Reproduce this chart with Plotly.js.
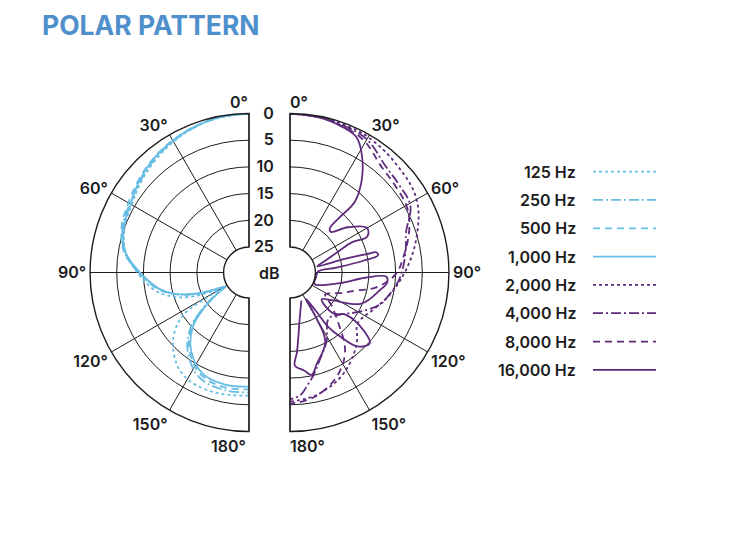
<!DOCTYPE html>
<html>
<head>
<meta charset="utf-8">
<script src="https://cdn.plot.ly/plotly-3.0.1.min.js"></script>
<style>
  html, body { margin: 0; padding: 0; background: #fff; }
  #chart { width: 736px; height: 536px; }
</style>
</head>
<body>
<div id="chart"></div>
<script>
// polar pattern, attenuation in dB relative to 0 deg (0 = outer ring)

const freqLabels = ["125 Hz", "250 Hz", "500 Hz", "1,000 Hz", "2,000 Hz", "4,000 Hz", "8,000 Hz", "16,000 Hz"];

// low bands, left half
const theta125 = [0, 10, 20, 30, 40, 50, 60, 70, 80, 86, 92, 100, 106, 112, 117, 119.5, 121, 122.5, 128, 137, 148, 163, 180];
const db125 = [0, 0.2, 0.7, 1.5, 2.4, 3.4, 4.4, 5.0, 6.2, 7.7, 9.4, 11.6, 14.0, 17.5, 22.0, 23.8, 19.6, 15.6, 12.2, 9.1, 6.9, 6.4, 6.7];

const thetaLow = [0, 10, 20, 30, 40, 50, 60, 70, 80, 86, 92, 100, 106, 112, 118, 121, 124, 128, 134, 143, 155, 168, 180];
const db250 = [0, 0.2, 0.7, 1.4, 2.2, 3.2, 4.0, 4.6, 6.0, 7.8, 9.8, 12.5, 15.3, 19.2, 23.5, 24.5, 22.0, 18.6, 14.4, 10.8, 8.0, 7.3, 7.3];
const db500 = [0, 0.2, 0.6, 1.2, 1.9, 2.8, 3.7, 4.4, 5.9, 7.7, 9.8, 12.3, 15.1, 19.0, 23.4, 24.5, 22.2, 19.0, 14.8, 11.3, 8.6, 7.8, 7.9];
const db1000 = [0, 0.2, 0.6, 1.3, 2.0, 3.0, 4.2, 4.8, 6.2, 8.0, 10.0, 12.6, 15.3, 19.3, 23.6, 24.6, 22.5, 19.4, 15.2, 11.7, 9.0, 8.3, 8.4];

// high bands, right half
const theta2k = [0, 10, 20, 30, 45, 60, 75, 90, 104, 114, 127, 135, 141, 153, 165, 172, 180];
const db2k = [0, 0.1, 0.3, 0.5, 1.4, 2.4, 5.3, 8.3, 10.9, 12.7, 13.9, 12.0, 10.6, 8.2, 6.6, 6.0, 5.6];

const theta4k = [0, 10, 20, 30, 42, 52, 61, 71, 80, 93, 103, 110, 120, 130, 140, 152, 162, 167, 171, 175, 180];
const db4k = [0, 0.2, 0.5, 1.0, 3.0, 3.6, 4.0, 6.8, 7.8, 9.2, 10.8, 12.0, 15.0, 17.5, 18.5, 15.2, 12.2, 10.1, 8.5, 6.8, 6.0];

const theta8k = [0, 10, 20, 29, 41, 50, 61, 70, 82, 91, 100, 105, 112, 117.5, 122, 128, 136, 145, 155, 165, 172, 180];
const db8k = [0, 0.2, 0.7, 1.4, 3.6, 4.2, 4.7, 6.0, 8.3, 10.0, 13.5, 16.8, 19.5, 21.3, 22.0, 20.0, 16.8, 11.8, 8.6, 6.6, 5.7, 5.2];

const theta16k = [0, 10, 17, 26, 32, 38, 42.5, 42, 42, 45, 52, 60, 65, 64, 66, 72, 77, 76, 76.5, 77, 79, 81, 84, 88,
  100, 115, 102, 94, 92.5, 96, 101, 113.6, 123.6, 130, 133.5, 127, 128.4, 131.6, 137.5, 142.5, 144.9, 146, 149,
  150, 153, 164, 168, 172, 177, 175, 168, 158];
const db16k = [0, 0.2, 0.6, 1.5, 4.3, 8.0, 11.8, 15.9, 18.6, 19.0, 16.0, 13.1, 13.8, 17.0, 19.5, 23.0, 24.5, 19.0, 15.0, 13.1, 13.0, 16.0, 21.0, 24.5,
  24.8, 24.7, 20.2, 15.7, 11.7, 11.5, 12.6, 15.2, 20.4, 22.0, 18.7, 16.6, 12.0, 9.8, 11.0, 15.0, 17.4, 21.0, 24.0,
  19.9, 15.2, 11.8, 10.2, 11.3, 12.3, 14.8, 21.0, 24.1];

const angleTicks = [0, 30, 60, 90, 120, 150, 180];
const angleText = ["", "30°", "60°", "90°", "120°", "150°", ""];
const dbTicks = [0, 5, 10, 15, 20, 25];

const BLUE = "#67bde4";
const PURPLE = "#5e2b7d";
const INK = "#1c1c1c";
const FONT = "Inter, 'Noto Sans', sans-serif";
const LABEL_FONT = { family: FONT, size: 16, color: INK, weight: 600 };

const dashes = ["3px,3px", "10px,3px,2px,3px", "7px,5px", "solid"];

const series = [
  { theta: theta125, r: db125, color: BLUE, dash: dashes[0], subplot: "polar" },
  { theta: thetaLow, r: db250, color: BLUE, dash: dashes[1], subplot: "polar" },
  { theta: thetaLow, r: db500, color: BLUE, dash: dashes[2], subplot: "polar" },
  { theta: thetaLow, r: db1000, color: BLUE, dash: dashes[3], subplot: "polar" },
  { theta: theta2k, r: db2k, color: PURPLE, dash: dashes[0], subplot: "polar2" },
  { theta: theta4k, r: db4k, color: PURPLE, dash: dashes[1], subplot: "polar2" },
  { theta: theta8k, r: db8k, color: PURPLE, dash: dashes[2], subplot: "polar2" },
  { theta: theta16k, r: db16k, color: PURPLE, dash: dashes[3], subplot: "polar2" },
];

const traces = series.map((s, i) => ({
  type: "scatterpolar",
  mode: "lines",
  subplot: s.subplot,
  theta: s.theta,
  r: s.r,
  name: freqLabels[i],
  line: { color: s.color, dash: s.dash, width: 1.8, shape: "spline", smoothing: 1.1 },
  hoverinfo: "skip",
}));

// legend samples drawn on a small cartesian panel
series.forEach((s, i) => {
  traces.push({
    type: "scatter",
    mode: "lines",
    x: [0, 1],
    y: [i, i],
    xaxis: "x",
    yaxis: "y",
    line: { color: s.color, dash: s.dash, width: 1.8 },
    hoverinfo: "skip",
  });
});

const px = (v) => v / 736;
const py = (v) => 1 - v / 536;

function angular(direction) {
  return {
    rotation: 90,
    direction: direction,
    tickvals: angleTicks,
    ticktext: angleText,
    ticks: "",
    showline: true,
    linecolor: INK,
    linewidth: 1.4,
    gridcolor: INK,
    gridwidth: 1,
    tickfont: LABEL_FONT,
  };
}

function radial(showLabels) {
  return {
    range: [25, 0],
    tickvals: dbTicks,
    showticklabels: showLabels,
    // invisible ticks push the labels into the gap between the halves
    ticks: "outside",
    ticklen: 10,
    tickcolor: "rgba(0,0,0,0)",
    showline: false,
    angle: 90,
    side: "counterclockwise",
    tickangle: 90,
    gridcolor: INK,
    gridwidth: 1,
    tickfont: LABEL_FONT,
  };
}

const domainY = [py(431.5), py(113.5)];

const annotations = [
  { text: "dB", x: px(269.5), y: py(273), xanchor: "center", yanchor: "middle" },
  { text: "0°", x: px(250), y: py(102), xanchor: "right", yanchor: "middle" },
  { text: "0°", x: px(288), y: py(102), xanchor: "left", yanchor: "middle" },
  { text: "180°", x: px(248), y: py(446), xanchor: "right", yanchor: "middle" },
  { text: "180°", x: px(288), y: py(446), xanchor: "left", yanchor: "middle" },
].map((a) => ({
  ...a,
  xref: "paper",
  yref: "paper",
  showarrow: false,
  font: LABEL_FONT,
}));

freqLabels.forEach((label, i) => {
  annotations.push({
    text: label,
    x: 0,
    y: i,
    xref: "x",
    yref: "y",
    xanchor: "right",
    yanchor: "middle",
    xshift: -15,
    showarrow: false,
    font: LABEL_FONT,
  });
});

const layout = {
  width: 736,
  height: 536,
  margin: { t: 0, b: 0, l: 0, r: 0 },
  paper_bgcolor: "#fff",
  showlegend: false,
  title: {
    text: "POLAR PATTERN",
    x: px(42),
    xanchor: "left",
    y: py(26),
    yanchor: "middle",
    font: { family: FONT, size: 26.5, weight: 700, color: "#4f8fcc" },
  },
  polar: {
    domain: { x: [px(90), px(249)], y: domainY },
    sector: [90, 270],
    hole: 0.16,
    bgcolor: "#fff",
    angularaxis: angular("counterclockwise"),
    radialaxis: radial(false),
  },
  polar2: {
    domain: { x: [px(290), px(449)], y: domainY },
    sector: [-90, 90],
    hole: 0.16,
    bgcolor: "#fff",
    angularaxis: angular("clockwise"),
    radialaxis: radial(true),
  },
  xaxis: {
    domain: [px(593), px(656)],
    range: [0, 1],
    visible: false,
    fixedrange: true,
  },
  yaxis: {
    domain: [py(384), py(157.5)],
    range: [7.5, -0.5],
    visible: false,
    fixedrange: true,
  },
  annotations: annotations,
};

Plotly.newPlot("chart", traces, layout, { displayModeBar: false, staticPlot: true });
</script>
</body>
</html>
